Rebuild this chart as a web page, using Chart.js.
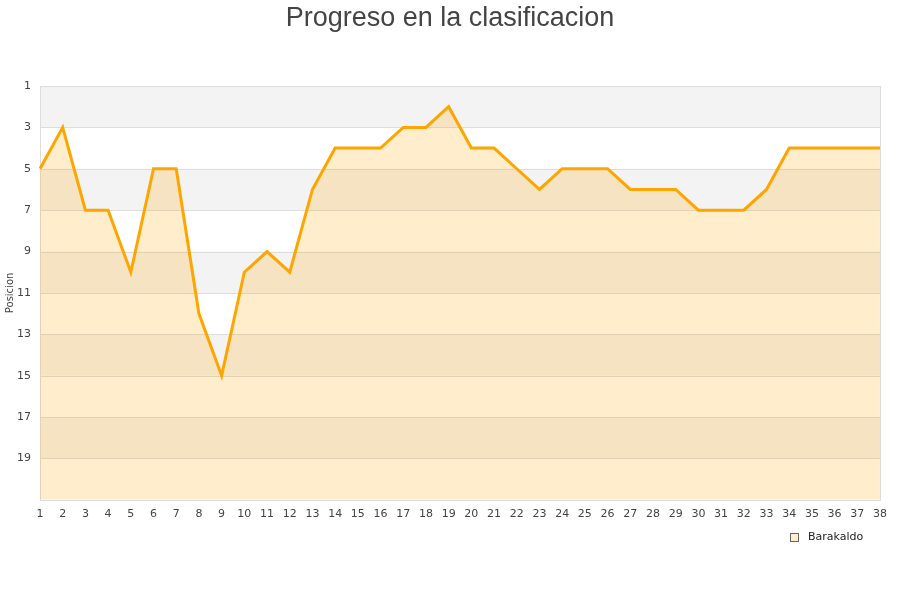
<!DOCTYPE html>
<html>
<head>
<meta charset="utf-8">
<script src="https://cdn.jsdelivr.net/npm/chart.js@4.4.0/dist/chart.umd.min.js"></script>
<style>
html,body{margin:0;padding:0;background:#fff;}
#wrap{width:900px;height:600px;}
</style>
</head>
<body>
<div id="wrap"><canvas id="c" width="900" height="600"></canvas></div>
<script>
const jornadas = ["1","2","3","4","5","6","7","8","9","10","11","12","13","14","15","16","17","18","19","20","21","22","23","24","25","26","27","28","29","30","31","32","33","34","35","36","37","38"];
const barakaldo = [5,3,7,7,10,5,5,12,15,10,9,10,6,4,4,4,3,3,2,4,4,5,6,5,5,5,6,6,6,7,7,7,6,4,4,4,4,4];
const yTicks = [1,3,5,7,9,11,13,15,17,19];
const grayBands = [[1,3],[5,7],[9,11],[13,15],[17,19]];
const chartTitle = 'Progreso en la clasificacion';
const seriesName = 'Barakaldo';

const bandPlugin = {
  id: 'bands',
  beforeDatasetsDraw(chart) {
    const {ctx, chartArea, scales} = chart;
    ctx.save();
    ctx.fillStyle = '#f3f3f3';
    grayBands.forEach(([a,b]) => {
      const y1 = scales.y.getPixelForValue(a);
      const y2 = scales.y.getPixelForValue(b);
      ctx.fillRect(chartArea.left, y1, chartArea.right - chartArea.left, y2 - y1);
    });
    ctx.strokeStyle = '#dddddd';
    ctx.lineWidth = 1;
    yTicks.forEach(v => {
      const y = Math.round(scales.y.getPixelForValue(v)) + 0.5;
      ctx.beginPath();
      ctx.moveTo(chartArea.left, y);
      ctx.lineTo(chartArea.right, y);
      ctx.stroke();
    });
    ctx.strokeRect(Math.round(chartArea.left)+0.5, Math.round(chartArea.top)+0.5,
      Math.round(chartArea.right - chartArea.left), Math.round(chartArea.bottom - chartArea.top));
    ctx.restore();
  },
  afterDraw(chart) {
    const ctx = chart.ctx;
    ctx.save();
    ctx.fillStyle = '#444444';
    ctx.font = '27px "Liberation Sans", Arial, sans-serif';
    ctx.textAlign = 'center';
    ctx.textBaseline = 'alphabetic';
    ctx.fillText(chartTitle, 450, 26);
    // legend
    ctx.fillStyle = '#FFEDCC';
    ctx.fillRect(790.5, 533.5, 8, 8);
    ctx.strokeStyle = '#666';
    ctx.lineWidth = 1;
    ctx.strokeRect(790.5, 533.5, 8, 8);
    ctx.fillStyle = '#222';
    ctx.font = '11px "DejaVu Sans", sans-serif';
    ctx.textAlign = 'left';
    ctx.textBaseline = 'middle';
    ctx.fillText(seriesName, 808, 537.5);
    ctx.restore();
  }
};

new Chart(document.getElementById('c'), {
  type: 'line',
  data: {
    labels: jornadas,
    datasets: [{
      label: seriesName,
      data: barakaldo,
      borderColor: '#FFA500',
      backgroundColor: 'rgba(255,165,0,0.2)',
      borderWidth: 3,
      pointRadius: 0,
      tension: 0,
      fill: { value: 21 }
    }]
  },
  options: {
    responsive: false,
    animation: false,
    layout: { padding: { left: 0, right: 20, top: 86, bottom: 71 } },
    plugins: {
      title: { display: false },
      legend: { display: false },
      tooltip: { enabled: false }
    },
    scales: {
      x: {
        offset: false,
        grid: { display: false, drawTicks: false },
        border: { display: false },
        ticks: {
          color: '#444',
          font: { family: 'DejaVu Sans', size: 11 },
          maxRotation: 0,
          autoSkip: false,
          padding: 8
        }
      },
      y: {
        reverse: true,
        min: 1,
        max: 21,
        afterBuildTicks: (axis) => { axis.ticks = yTicks.map(v => ({ value: v })); },
        afterFit: (axis) => { axis.width = 40; },
        grid: { display: false, drawTicks: false },
        border: { display: false },
        title: {
          display: true,
          text: 'Posicion',
          color: '#444',
          font: { family: 'DejaVu Sans', size: 10 },
          padding: { top: 4, bottom: 0 }
        },
        ticks: {
          color: '#444',
          font: { family: 'DejaVu Sans', size: 11 },
          padding: 9
        }
      }
    }
  },
  plugins: [bandPlugin]
});
</script>
</body>
</html>
